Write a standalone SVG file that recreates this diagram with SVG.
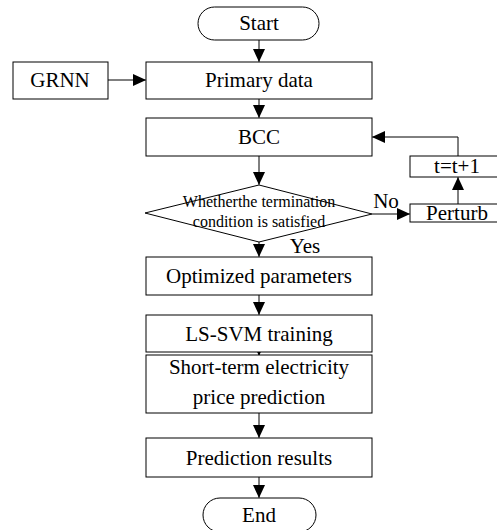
<svg xmlns="http://www.w3.org/2000/svg" width="497" height="530" viewBox="0 0 497 530">
<defs>
<marker id="ah" markerWidth="12" markerHeight="13" refX="13" refY="6" orient="auto" markerUnits="userSpaceOnUse">
<path d="M0,0 L13,6 L0,12 Z" fill="#000"/>
</marker>
<style>
.b{fill:#fff;stroke:#000;stroke-width:1}
.t{font-size:21px;fill:#000;text-anchor:middle}
.s{font-size:16px;fill:#000;text-anchor:middle}
.c{fill:none;stroke:#000;stroke-width:1;marker-end:url(#ah)}
</style>
</defs>
<rect width="497" height="530" fill="#fff"/>
<g id="connectors">
<path class="c" d="M259,40 V62"/>
<path class="c" d="M259,99 V118"/>
<path class="c" d="M259,156 V185"/>
<path class="c" d="M259,242 V257"/>
<path class="c" d="M259,295 V315"/>
<path class="c" d="M259,352 V356"/>
<path class="c" d="M259,413 V438"/>
<path class="c" d="M259,477 V498"/>
<path class="c" d="M108,80 H146"/>
<path class="c" d="M372,214 H410"/>
<path class="c" d="M458,204 V177"/>
<path class="c" d="M458,156 V137 H372"/>
</g>
<g font-family="Liberation Serif, Times New Roman, serif">
<g id="start"><rect class="b" x="198" y="7" width="121" height="33" rx="16.5"/><text class="t" x="259" y="30">Start</text></g>
<g id="grnn"><rect class="b" x="13" y="62" width="95" height="37"/><text class="t" x="60" y="87">GRNN</text></g>
<g id="primary"><rect class="b" x="146" y="62" width="226" height="37"/><text class="t" x="259" y="87">Primary data</text></g>
<g id="bcc"><rect class="b" x="146" y="118" width="226" height="38"/><text class="t" x="259" y="144">BCC</text></g>
<g id="decision"><path class="b" d="M259,185 L372,214 L259,242 L145,213 Z"/><text class="s" x="259" y="207">Whetherthe termination</text><text class="s" x="259" y="227">condition is satisfied</text></g>
<text class="t" x="386" y="208">No</text>
<text class="t" x="305" y="253">Yes</text>
<g id="perturb"><rect class="b" x="410" y="204" width="90" height="18"/><text class="t" x="457" y="220">Perturb</text></g>
<g id="tinc"><rect class="b" x="410" y="156" width="90" height="21"/><text class="t" x="457" y="173">t=t+1</text></g>
<g id="optimized"><rect class="b" x="146" y="257" width="226" height="38"/><text class="t" x="259" y="283">Optimized parameters</text></g>
<g id="lssvm"><rect class="b" x="146" y="315" width="226" height="37"/><text class="t" x="259" y="341">LS-SVM training</text></g>
<g id="shortterm"><rect class="b" x="146" y="355" width="226" height="58"/><text class="t" x="259" y="374">Short-term electricity</text><text class="t" x="259" y="404">price prediction</text></g>
<g id="results"><rect class="b" x="146" y="438" width="226" height="39"/><text class="t" x="259" y="465">Prediction results</text></g>
<g id="end"><rect class="b" x="203" y="498" width="113" height="34" rx="17"/><text class="t" x="259" y="522">End</text></g>
</g>
</svg>
